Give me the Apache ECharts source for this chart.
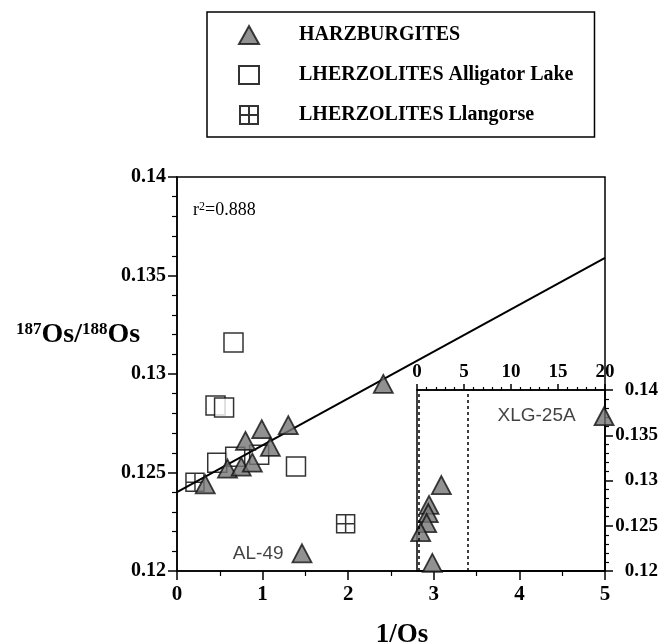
<!DOCTYPE html>
<html>
<head>
<meta charset="utf-8">
<script src="https://cdn.jsdelivr.net/npm/echarts@6/dist/echarts.min.js"></script>
<style>html,body{margin:0;padding:0;background:#fff}#c{width:659px;height:644px}</style>
</head>
<body>
<div id="c"></div>
<script>
// ---- data ----
const harzburgites = [[0.33,0.1244],[0.59,0.1252],[0.75,0.1253],[0.88,0.1255],[0.80,0.1266],[0.99,0.1272],[1.09,0.1263],[1.30,0.1274],[2.41,0.1295]];
const harzLabeled = [{name:'AL-49', value:[1.46,0.1209]}];
const alligatorLake = [[0.66,0.1316],[0.45,0.1284],[0.55,0.1283],[0.47,0.1255],[0.68,0.1258],[0.96,0.1259],[1.39,0.1253]];
const llangorse = [[0.21,0.1245],[1.97,0.1224]];
const regressionLine = [[0,0.1240],[5,0.1359]];
const insetHarz = [[2.59,0.1295],[1.28,0.1273],[1.20,0.1264],[1.03,0.1253],[0.39,0.1243],[1.63,0.1209]];
const insetLabeled = [{name:'XLG-25A', value:[19.9,0.1371]}];
const insetDashedX = [0.15, 5.4];
const mainXTicks = {min:0, max:5, interval:1};
const mainYTicks = {min:0.12, max:0.14, interval:0.005};
const insetXTicks = {min:0, max:20, interval:5};
const insetYTicks = {min:0.12, max:0.14, interval:0.005};
const legendNames = ['HARZBURGITES','LHERZOLITES Alligator Lake','LHERZOLITES Llangorse'];
const rSquared = '0.888';

const SERIF = '"Liberation Serif", "Times New Roman", serif';
const SANS = '"Liberation Sans", Arial, sans-serif';
const triStyle = {color:'#767676', borderColor:'#111', borderWidth:1.8};
const sqStyle = {color:'#ffffff', borderColor:'#000', borderWidth:1.5};
const crossPath = 'path://M0,0L20,0L20,20L0,20Z M10,0L10,20 M0,10L20,10';

const chart = echarts.init(document.getElementById('c'), null, {renderer:'canvas'});

function axisCommon(ext) {
  return Object.assign({
    type:'value',
    axisLine:{show:true, onZero:false, lineStyle:{color:'#000', width:1.5}},
    axisTick:{show:true, inside:false, lineStyle:{color:'#000', width:1.5}},
    minorTick:{show:true, lineStyle:{color:'#000', width:1.2}},
    splitLine:{show:false},
    axisLabel:{color:'#000', fontFamily:SERIF, fontWeight:'bold'}
  }, ext);
}

const option = {
  animation:false,
  backgroundColor:'#fff',
  title:[
    {left:188, top:196, text:'{n|r}{s|2}{n|=' + rSquared + '}',
     textStyle:{fontWeight:'normal', rich:{n:{fontFamily:SERIF, fontWeight:'normal', fontSize:18, color:'#000', lineHeight:19}, s:{fontFamily:SERIF, fontWeight:'normal', fontSize:12, color:'#000', verticalAlign:'top', lineHeight:12}}}},
    {left:11, top:316, text:'{s|187}{b|Os/}{s|188}{b|Os}',
     textStyle:{rich:{b:{fontFamily:SERIF, fontWeight:'bold', fontSize:28, color:'#000', lineHeight:28}, s:{fontFamily:SERIF, fontWeight:'bold', fontSize:17, color:'#000', verticalAlign:'top', lineHeight:17}}}},
    {left:397, textAlign:'center', top:617, text:'1/Os',
     textStyle:{fontFamily:SERIF, fontWeight:'bold', fontSize:27, color:'#000'}}
  ],
  legend:{
    orient:'vertical', left:207, top:12,
    data:legendNames,
    padding:[13,21,12,31],
    itemWidth:20, itemHeight:18, itemGap:20,
    borderColor:'#000', borderWidth:1.5,
    selectedMode:false,
    textStyle:{fontFamily:SERIF, fontWeight:'bold', fontSize:20, color:'#000', lineHeight:20, padding:[0,0,0,35]}
  },
  grid:[
    {left:177, top:177, width:428, height:394, show:true, borderColor:'#000', borderWidth:1.5, backgroundColor:'transparent', containLabel:false, outerBoundsMode:'none'},
    {left:417, top:390, width:188, height:181, show:true, borderColor:'#000', borderWidth:1.5, backgroundColor:'transparent', containLabel:false, outerBoundsMode:'none'}
  ],
  xAxis:[
    axisCommon({gridIndex:0, position:'bottom', min:mainXTicks.min, max:mainXTicks.max, interval:mainXTicks.interval,
      axisTick:{show:true, inside:false, length:9, lineStyle:{color:'#000', width:1.5}},
      minorTick:{show:true, splitNumber:2, length:5, lineStyle:{color:'#000', width:1.2}},
      axisLabel:{color:'#000', fontFamily:SERIF, fontWeight:'bold', fontSize:21, margin:13}}),
    axisCommon({gridIndex:1, position:'top', min:insetXTicks.min, max:insetXTicks.max, interval:insetXTicks.interval,
      axisTick:{show:true, inside:false, length:6, lineStyle:{color:'#000', width:1.5}},
      minorTick:{show:true, splitNumber:5, length:3, lineStyle:{color:'#000', width:1.2}},
      axisLabel:{color:'#000', fontFamily:SERIF, fontWeight:'bold', fontSize:19, margin:8}})
  ],
  yAxis:[
    axisCommon({gridIndex:0, position:'left', min:mainYTicks.min, max:mainYTicks.max, interval:mainYTicks.interval,
      axisTick:{show:true, inside:false, length:9, lineStyle:{color:'#000', width:1.5}},
      minorTick:{show:true, splitNumber:5, length:5, lineStyle:{color:'#000', width:1.2}},
      axisLabel:{color:'#000', fontFamily:SERIF, fontWeight:'bold', fontSize:20, margin:11}}),
    axisCommon({gridIndex:1, position:'right', min:insetYTicks.min, max:insetYTicks.max, interval:insetYTicks.interval,
      axisTick:{show:true, inside:false, length:8, lineStyle:{color:'#000', width:1.5}},
      minorTick:{show:true, splitNumber:5, length:4, lineStyle:{color:'#000', width:1.2}},
      axisLabel:{color:'#000', fontFamily:SERIF, fontWeight:'bold', fontSize:19, margin:53, align:'right'}})
  ],
  series:[
    {name:legendNames[1], type:'scatter', xAxisIndex:0, yAxisIndex:0, symbol:'rect', symbolSize:19, itemStyle:sqStyle, data:alligatorLake, z:2},
    {name:legendNames[2], type:'scatter', xAxisIndex:0, yAxisIndex:0, symbol:crossPath, symbolSize:18, itemStyle:sqStyle, data:llangorse, z:2},
    {name:'fit', type:'line', xAxisIndex:0, yAxisIndex:0, data:regressionLine, symbol:'none', lineStyle:{color:'#000', width:2}, z:3, silent:true},
    {name:legendNames[0], type:'scatter', xAxisIndex:0, yAxisIndex:0, symbol:'triangle', symbolSize:[19,18], itemStyle:triStyle, data:harzburgites, z:4},
    {name:legendNames[0], type:'scatter', xAxisIndex:0, yAxisIndex:0, symbol:'triangle', symbolSize:[19,18], itemStyle:triStyle, data:harzLabeled, z:4,
     label:{show:true, position:'left', distance:8, formatter:'{b}', fontFamily:SANS, fontSize:19, color:'#111'}},
    {name:legendNames[0], type:'scatter', xAxisIndex:1, yAxisIndex:1, symbol:'triangle', symbolSize:[19,18], itemStyle:triStyle, data:insetHarz, z:4,
     markLine:{silent:true, symbol:['none','none'], label:{show:false}, lineStyle:{color:'#000', type:[3,3], width:1.5},
       data:insetDashedX.map(v=>({xAxis:v}))}},
    {name:legendNames[0], type:'scatter', xAxisIndex:1, yAxisIndex:1, symbol:'triangle', symbolSize:[19,18], itemStyle:triStyle, data:insetLabeled, z:4,
     label:{show:true, position:'left', distance:18, formatter:'{b}', fontFamily:SANS, fontSize:19, color:'#111'}}
  ]
};
chart.setOption(option);
</script>
</body>
</html>
